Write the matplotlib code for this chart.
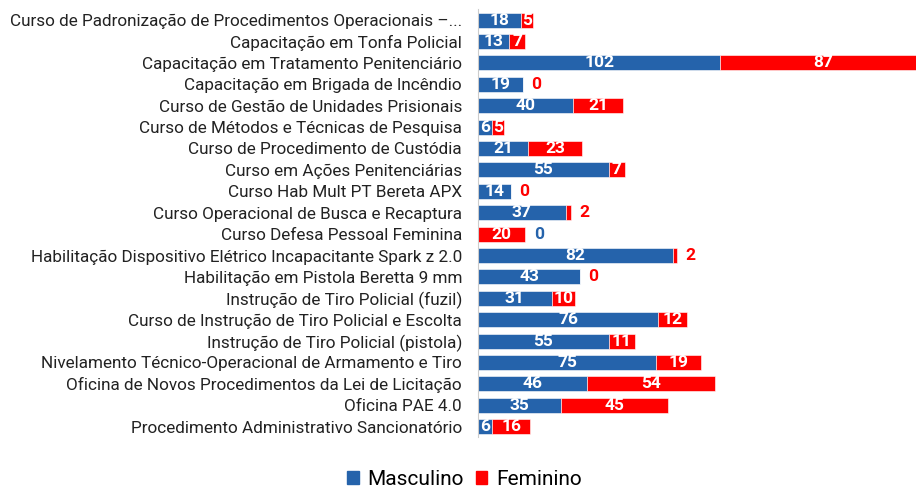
import matplotlib
matplotlib.use("Agg")
from matplotlib import pyplot as plt
from matplotlib.patches import Patch

plt.rcParams['font.family'] = ['Roboto', 'DejaVu Sans']

cursos = [
    "Curso de Padronização de Procedimentos Operacionais –...",
    "Capacitação em Tonfa Policial",
    "Capacitação em Tratamento Penitenciário",
    "Capacitação em Brigada de Incêndio",
    "Curso de Gestão de Unidades Prisionais",
    "Curso de Métodos e Técnicas de Pesquisa",
    "Curso de Procedimento de Custódia",
    "Curso em Ações Penitenciárias",
    "Curso Hab Mult PT Bereta APX",
    "Curso Operacional de Busca e Recaptura",
    "Curso Defesa Pessoal Feminina",
    "Habilitação Dispositivo Elétrico Incapacitante Spark z 2.0",
    "Habilitação em Pistola Beretta 9 mm",
    "Instrução de Tiro Policial (fuzil)",
    "Curso de Instrução de Tiro Policial e Escolta",
    "Instrução de Tiro Policial (pistola)",
    "Nivelamento Técnico-Operacional de Armamento e Tiro",
    "Oficina de Novos Procedimentos da Lei de Licitação",
    "Oficina PAE 4.0",
    "Procedimento Administrativo Sancionatório",
]
masculino = [18, 13, 102, 19, 40, 6, 21, 55, 14, 37, 0, 82, 43, 31, 76, 55, 75, 46, 35, 6]
feminino = [5, 7, 87, 0, 21, 5, 23, 7, 0, 2, 20, 2, 0, 10, 12, 11, 19, 54, 45, 16]

azul = '#2563ab'
vermelho = '#ff0000'

fig = plt.figure(figsize=(9.16, 4.92), dpi=100)
ax = fig.add_axes([478 / 916, 0.111, 1 - 478 / 916, 0.87])

y = list(range(len(cursos)))
ax.barh(y, masculino, height=0.7, color=azul, edgecolor='white', linewidth=0.4)
ax.barh(y, feminino, left=masculino, height=0.7, color=vermelho, edgecolor='white', linewidth=0.4)

ax.set_xlim(0, 184.5)
ax.set_ylim(len(cursos) - 0.5, -0.5)
ax.set_yticks(y)
ax.set_yticklabels(cursos, fontsize=12.3, color='#222222')
ax.tick_params(axis='y', length=0, pad=11.5)
ax.set_xticks([])
for s in ['top', 'right', 'bottom']:
    ax.spines[s].set_visible(False)
ax.spines['left'].set_color('#cccccc')

# rótulos
fs = 12.5
for i, (m, f) in enumerate(zip(masculino, feminino)):
    total = m + f
    if m >= 3:
        ax.text(m / 2, i, str(m), ha='center', va='center', color='white',
                fontsize=fs, fontweight='bold')
    else:
        ax.text(total + 3.5, i, str(m), ha='left', va='center', color=azul,
                fontsize=fs, fontweight='bold')
    if f >= 3:
        ax.text(m + f / 2, i, str(f), ha='center', va='center', color='white',
                fontsize=fs, fontweight='bold')
    else:
        ax.text(total + 3.5, i, str(f), ha='left', va='center', color=vermelho,
                fontsize=fs, fontweight='bold')

handles = [Patch(color=azul, label='Masculino'), Patch(color=vermelho, label='Feminino')]
fig.legend(handles=handles, loc='lower center', bbox_to_anchor=(0.507, 0.006), ncol=2,
           frameon=False, fontsize=15, handlelength=0.55, handleheight=0.55,
           handletextpad=0.4, columnspacing=0.6, borderpad=0, borderaxespad=0)

fig.savefig('out.png', dpi=100)
